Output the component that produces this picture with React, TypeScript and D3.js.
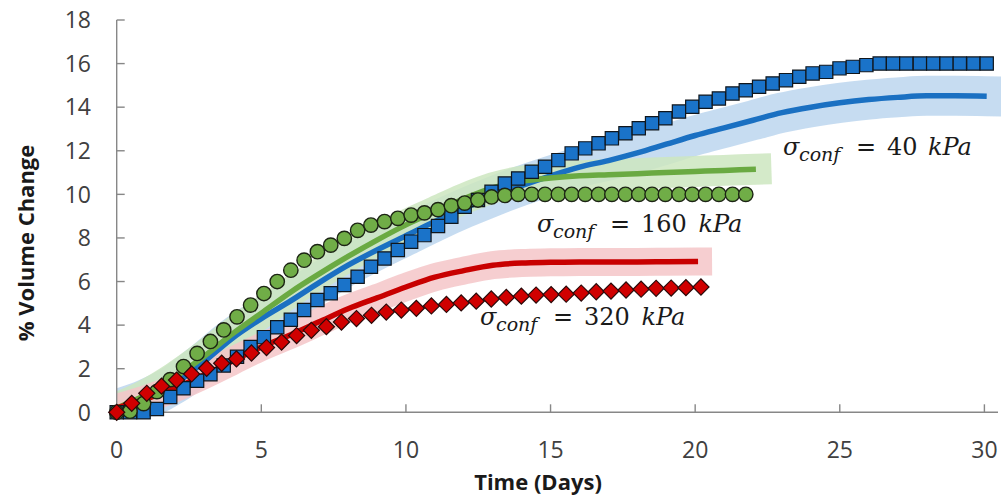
import React from "react";
import * as d3 from "d3";

// Volume change vs time, three confining stresses

const W = 1001;
const H = 497;
const margin = { top: 20, right: 16.6, bottom: 84.7, left: 116.7 };

// measurement days for squares and circles
const sampleDays = [
  0.0, 0.46, 0.93, 1.39, 1.85, 2.31, 2.78, 3.24, 3.7, 4.16, 4.63, 5.09, 5.55, 6.02, 6.48, 6.94,
  7.4, 7.87, 8.33, 8.79, 9.26, 9.72, 10.18, 10.64, 11.11, 11.57, 12.03, 12.49, 12.96, 13.42,
  13.88, 14.35, 14.81, 15.27, 15.73, 16.2, 16.66, 17.12, 17.59, 18.05, 18.51, 18.97, 19.44,
  19.9, 20.36, 20.82, 21.29, 21.75, 22.21, 22.68, 23.14, 23.6, 24.06, 24.53, 24.99, 25.45,
  25.92, 26.38, 26.84, 27.3, 27.77, 28.23, 28.69, 29.15, 29.62, 30.08,
];
// measurement days for diamonds
const redDays = [
  0.0, 0.52, 1.04, 1.55, 2.07, 2.59, 3.11, 3.63, 4.14, 4.66, 5.18, 5.7, 6.22, 6.73, 7.25, 7.77,
  8.29, 8.81, 9.32, 9.84, 10.36, 10.88, 11.4, 11.91, 12.43, 12.95, 13.47, 13.99, 14.5, 15.02,
  15.54, 16.06, 16.58, 17.09, 17.61, 18.13, 18.65, 19.17, 19.68, 20.2,
];

const blueMeasured = [
  0, 0, 0, 0.15, 0.7, 1.1, 1.45, 1.75, 2.15, 2.55, 3.0, 3.45, 3.9, 4.25, 4.69, 5.15, 5.46,
  5.84, 6.22, 6.68, 7.06, 7.45, 7.83, 8.13, 8.55, 8.97, 9.43, 9.74, 10.12, 10.5, 10.73, 11.04,
  11.27, 11.57, 11.88, 12.11, 12.34, 12.57, 12.8, 13.03, 13.26, 13.49, 13.8, 14.02, 14.25,
  14.4, 14.63, 14.78, 14.94, 15.09, 15.24, 15.4, 15.55, 15.62, 15.78, 15.85, 15.93, 16.0, 16.0,
  16.0, 16.0, 16.0, 16.0, 16.0, 16.0, 16.0,
];
const greenMeasured = [
  0.0, 0.05, 0.4, 0.95, 1.5, 2.1, 2.7, 3.25, 3.78, 4.38, 4.92, 5.45, 6.0, 6.52, 6.98, 7.37,
  7.67, 7.98, 8.35, 8.59, 8.75, 8.9, 9.05, 9.15, 9.3, 9.48, 9.6, 9.74, 9.88, 9.95, 10.0, 10.0,
  10.0, 10.0, 10.0, 10.0, 10.0, 10.0, 10.0, 10.0, 10.0, 10.0, 10.0, 10.0, 10.0, 10.0, 10.0, 10.0,
];
const redMeasured = [
  0.0, 0.41, 0.87, 1.2, 1.48, 1.76, 2.02, 2.25, 2.45, 2.72, 2.97, 3.22, 3.52, 3.76, 3.93, 4.14,
  4.3, 4.45, 4.6, 4.69, 4.77, 4.88, 4.95, 5.02, 5.1, 5.2, 5.27, 5.33, 5.38, 5.4, 5.42, 5.47,
  5.53, 5.56, 5.61, 5.65, 5.69, 5.7, 5.72, 5.75,
];

// model curves
const blueModelDays = [
  0, 1, 2, 3, 4, 5, 6, 7, 8, 9, 10, 11, 12, 13, 14, 15, 16, 17, 18, 19, 20, 21, 22, 23, 24, 25,
  26, 27, 28, 29, 30.08,
];
const blueModel = [
  0.15, 0.6, 1.3, 2.3, 3.4, 4.3, 5.1, 5.95, 6.75, 7.45, 8.1, 8.75, 9.35, 9.9, 10.4, 10.85,
  11.25, 11.55, 11.9, 12.3, 12.7, 13.05, 13.4, 13.75, 14.0, 14.2, 14.35, 14.45, 14.52, 14.52, 14.5,
];
const greenModelDays = [0, 1, 2, 3, 4, 5, 6, 7, 8, 9, 10, 11, 12, 13, 14, 15, 16, 17, 18, 19, 20, 21, 22.1];
const greenModel = [
  0.2, 0.8, 1.6, 2.55, 3.6, 4.55, 5.5, 6.35, 7.15, 7.9, 8.6, 9.2, 9.8, 10.3, 10.6, 10.75, 10.85,
  10.9, 10.95, 11.0, 11.05, 11.1, 11.15,
];
const redModelDays = [0, 1, 2, 3, 4, 5, 6, 7, 8, 9, 10, 11, 12, 13, 14, 15, 16, 17, 18, 19, 20.1];
const redModel = [
  0.2, 0.6, 1.1, 1.7, 2.35, 3.0, 3.55, 4.15, 4.75, 5.25, 5.75, 6.2, 6.5, 6.75, 6.85, 6.88, 6.9,
  6.9, 6.9, 6.91, 6.92,
];

const xTicks = [0, 5, 10, 15, 20, 25, 30];
const yTicks = [0, 2, 4, 6, 8, 10, 12, 14, 16, 18];
const stressLabels = ["40", "160", "320"];

const x = d3.scaleLinear().domain([0, 30]).range([margin.left, 984.4]);
const y = d3.scaleLinear().domain([0, 18]).range([H - margin.bottom, margin.top]);

const pts = (days: number[], vals: number[]) => vals.map((v, i) => [days[i], v] as [number, number]);

const line = d3
  .line<[number, number]>()
  .x((d) => x(d[0]))
  .y((d) => y(d[1]))
  .curve(d3.curveMonotoneX);

const squarePath = d3.symbol(d3.symbolSquare, 176)()!;
const circlePath = d3.symbol(d3.symbolCircle, 162)()!;
const diamondPath = d3.symbol(d3.symbolSquare, 130)()!;

function ConfLabel({ x0, y0, value }: { x0: number; y0: number; value: string }) {
  const numX = x0 + 104;
  return (
    <text x={x0} y={y0} fontFamily="'DejaVu Serif', serif" fontSize={24} fill="#1a1a1a">
      <tspan fontStyle="italic">σ</tspan>
      <tspan x={x0 + 16} dy={6} fontSize={19} fontStyle="italic">conf</tspan>
      <tspan x={x0 + 73} dy={-6}>=</tspan>
      <tspan x={numX}>{value}</tspan>
      <tspan x={numX + value.length * 16.5 + 8} fontStyle="italic">kPa</tspan>
    </text>
  );
}

export default function App() {
  const models = [
    { d: line(pts(blueModelDays, blueModel))!, band: "#bcd6ee", bandW: 40, col: "#1a70c2" },
    { d: line(pts(greenModelDays, greenModel))!, band: "#cde6bf", bandW: 31, col: "#6aaa42" },
    { d: line(pts(redModelDays, redModel))!, band: "#f4c6c8", bandW: 28, col: "#c80000" },
  ];
  const y0 = y(0);
  const axisCol = "#878787";

  return (
    <svg width={W} height={H} style={{ position: "absolute", left: 0, top: 0, background: "#fff" }}>
      <defs>
        <clipPath id="plotClip">
          <rect x={x(0)} y={0} width={W - x(0)} height={y0 + 4} />
        </clipPath>
      </defs>

      {/* shaded bands */}
      <g clipPath="url(#plotClip)" fill="none">
        {models.map((m, i) => (
          <path key={i} d={m.d} stroke={m.band} strokeWidth={m.bandW} strokeLinecap="square"
            strokeLinejoin="round" opacity={0.85} />
        ))}
      </g>

      {/* axes */}
      <line x1={x(0)} x2={x(0)} y1={y(18)} y2={y0} stroke={axisCol} strokeWidth={1.4} />
      <line x1={x(0)} x2={998} y1={y0} y2={y0} stroke={axisCol} strokeWidth={1.4} />
      {yTicks.map((t) => (
        <g key={"y" + t}>
          <line x1={x(0)} x2={x(0) + 8} y1={y(t)} y2={y(t)} stroke={axisCol} strokeWidth={1.4} />
          <text x={91} y={y(t)} dy="0.36em" textAnchor="end" fontFamily="'Open Sans', sans-serif"
            fontSize={23} fill="#404040">{t}</text>
        </g>
      ))}
      {xTicks.map((t) => (
        <g key={"x" + t}>
          <line x1={x(t)} x2={x(t)} y1={y0} y2={y0 - 8} stroke={axisCol} strokeWidth={1.4} />
          <text x={x(t)} y={458} textAnchor="middle" fontFamily="'Open Sans', sans-serif"
            fontSize={23} fill="#404040">{t}</text>
        </g>
      ))}

      {/* model lines */}
      <g fill="none">
        {models.map((m, i) => (
          <path key={i} d={m.d} stroke={m.col} strokeWidth={5.5} strokeLinejoin="round" />
        ))}
      </g>

      {/* measured points */}
      <g>
        {blueMeasured.map((v, i) => (
          <path key={"b" + i} d={squarePath} transform={`translate(${x(sampleDays[i])},${y(v)})`}
            fill="#1a73c9" stroke="#10161c" strokeWidth={1.2} />
        ))}
      </g>
      <g>
        {greenMeasured.map((v, i) => (
          <path key={"g" + i} d={circlePath} transform={`translate(${x(sampleDays[i])},${y(v)})`}
            fill="#70ad47" stroke="#1c2414" strokeWidth={1.4} />
        ))}
      </g>
      <g>
        {redMeasured.map((v, i) => (
          <path key={"r" + i} d={diamondPath}
            transform={`translate(${x(redDays[i])},${y(v)}) rotate(45)`}
            fill="#d00000" stroke="#2a0a0a" strokeWidth={1.2} />
        ))}
      </g>

      {/* annotations */}
      <ConfLabel x0={783} y0={155} value={stressLabels[0]} />
      <ConfLabel x0={537} y0={232} value={stressLabels[1]} />
      <ConfLabel x0={480} y0={325} value={stressLabels[2]} />

      {/* axis titles */}
      <text x={538} y={490} textAnchor="middle" fontFamily="'Open Sans', sans-serif" fontWeight="bold"
        fontSize={22} fill="#1a1a1a">Time (Days)</text>
      <text transform="translate(34,243) rotate(-90)" textAnchor="middle"
        fontFamily="'Open Sans', sans-serif" fontWeight="bold" fontSize={22} fill="#1a1a1a">
        % Volume Change
      </text>
    </svg>
  );
}
